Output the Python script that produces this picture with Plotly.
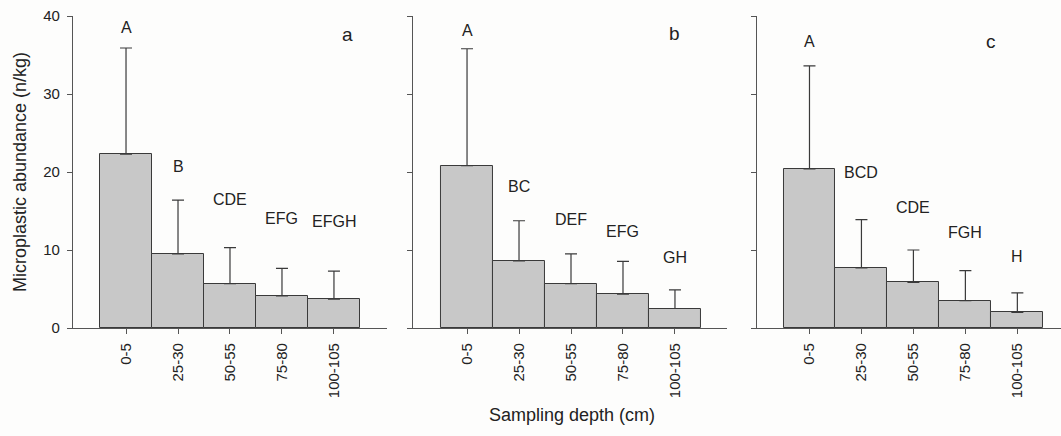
import plotly.graph_objects as go

depths = ["0-5", "25-30", "50-55", "75-80", "100-105"]

mean_a = [22.3, 9.5, 5.7, 4.1, 3.7]
upper_a = [35.9, 16.4, 10.3, 7.65, 7.3]
mean_b = [20.8, 8.6, 5.7, 4.35, 2.5]
upper_b = [35.8, 13.75, 9.5, 8.55, 4.9]
mean_c = [20.4, 7.7, 5.85, 3.5, 2.0]
upper_c = [33.6, 13.9, 10.0, 7.35, 4.5]

letters_a = ["A", "B", "CDE", "EFG", "EFGH"]
letters_b = ["A", "BC", "DEF", "EFG", "GH"]
letters_c = ["A", "BCD", "CDE", "FGH", "H"]
letter_y_a = [38.5, 20.7, 16.5, 14.0, 13.7]
letter_y_b = [38.1, 18.1, 13.9, 12.4, 9.1]
letter_y_c = [36.7, 19.9, 15.5, 12.2, 9.2]

panel_names = ["a", "b", "c"]
y_ticks = [0, 10, 20, 30, 40]

FONT = "Liberation Sans, Arial, sans-serif"
TXT = "#222222"
AX = "#555555"
BAR_FILL = "#c8c8c8"
BAR_LINE = "#3a3a3a"

panels = [
    (mean_a, upper_a, letters_a, letter_y_a, "x", "y", [-1.02, 5.02], [0.0, 0.3178], 4.26, 37.6),
    (mean_b, upper_b, letters_b, letter_y_b, "x2", "y2", [-1.04, 5.0], [0.3441, 0.6619], 4.0, 37.8),
    (mean_c, upper_c, letters_c, letter_y_c, "x3", "y3", [-1.01, 4.84], [0.6923, 1.0], 3.5, 36.7),
]

fig = go.Figure()
annotations = []
layout = {}
for i, (mean, upper, letters, ly, xr, yr, xrange, dom, px, py) in enumerate(panels):
    err = [u - m for u, m in zip(upper, mean)]
    fig.add_trace(go.Bar(
        x=depths, y=mean, xaxis=xr, yaxis=yr, width=1.0,
        marker=dict(color=BAR_FILL, line=dict(color=BAR_LINE, width=1)),
        error_y=dict(type="data", array=err, arrayminus=[0] * len(err), symmetric=False,
                     color=BAR_LINE, thickness=1.2, width=6),
        showlegend=False, hoverinfo="skip",
    ))
    for d, t, yy in zip(depths, letters, ly):
        annotations.append(dict(x=d, y=yy, xref=xr, yref=yr, text=t, showarrow=False,
                                font=dict(size=16, color=TXT, family=FONT),
                                xanchor="center", yanchor="middle"))
    annotations.append(dict(x=px, y=py, xref=xr, yref=yr, text=panel_names[i], showarrow=False,
                            font=dict(size=19, color=TXT, family=FONT),
                            xanchor="center", yanchor="middle"))
    suffix = "" if i == 0 else str(i + 1)
    layout["xaxis" + suffix] = dict(
        domain=dom, range=xrange, anchor=yr, type="category", automargin=False,
        showline=True, linecolor=AX, linewidth=1.2, ticks="outside", ticklen=5,
        tickcolor=AX, tickwidth=1.2, tickangle=-90, showgrid=False, zeroline=False,
        tickfont=dict(size=15, color=TXT, family=FONT), ticklabelstandoff=3,
    )
    layout["yaxis" + suffix] = dict(
        domain=[0, 1], range=[0, 40], anchor=xr, automargin=False,
        showline=True, linecolor=AX, linewidth=1.2, ticks="outside", ticklen=5,
        tickcolor=AX, tickwidth=1.2, tickvals=y_ticks, showgrid=False, zeroline=False,
        showticklabels=(i == 0), tickfont=dict(size=15, color=TXT, family=FONT),
        ticklabelstandoff=4, ticklabeloverflow="allow",
    )

annotations.append(dict(x=-0.0536, y=0.5, xref="paper", yref="paper",
                        text="Microplastic abundance (n/kg)", textangle=-90, showarrow=False,
                        font=dict(size=18, color=TXT, family=FONT), xanchor="center", yanchor="middle"))
annotations.append(dict(x=0.5048, y=-0.279, xref="paper", yref="paper",
                        text="Sampling depth (cm)", showarrow=False,
                        font=dict(size=18, color=TXT, family=FONT), xanchor="center", yanchor="middle"))

fig.update_layout(
    width=1061, height=436,
    margin=dict(l=73, r=0, t=16, b=108),
    paper_bgcolor="#fdfdfc", plot_bgcolor="#fdfdfc",
    bargap=0, annotations=annotations, **layout,
)

fig.write_html("out.html", config={"displayModeBar": False},
               post_script="document.body.style.margin='0';document.body.style.overflow='hidden';")
